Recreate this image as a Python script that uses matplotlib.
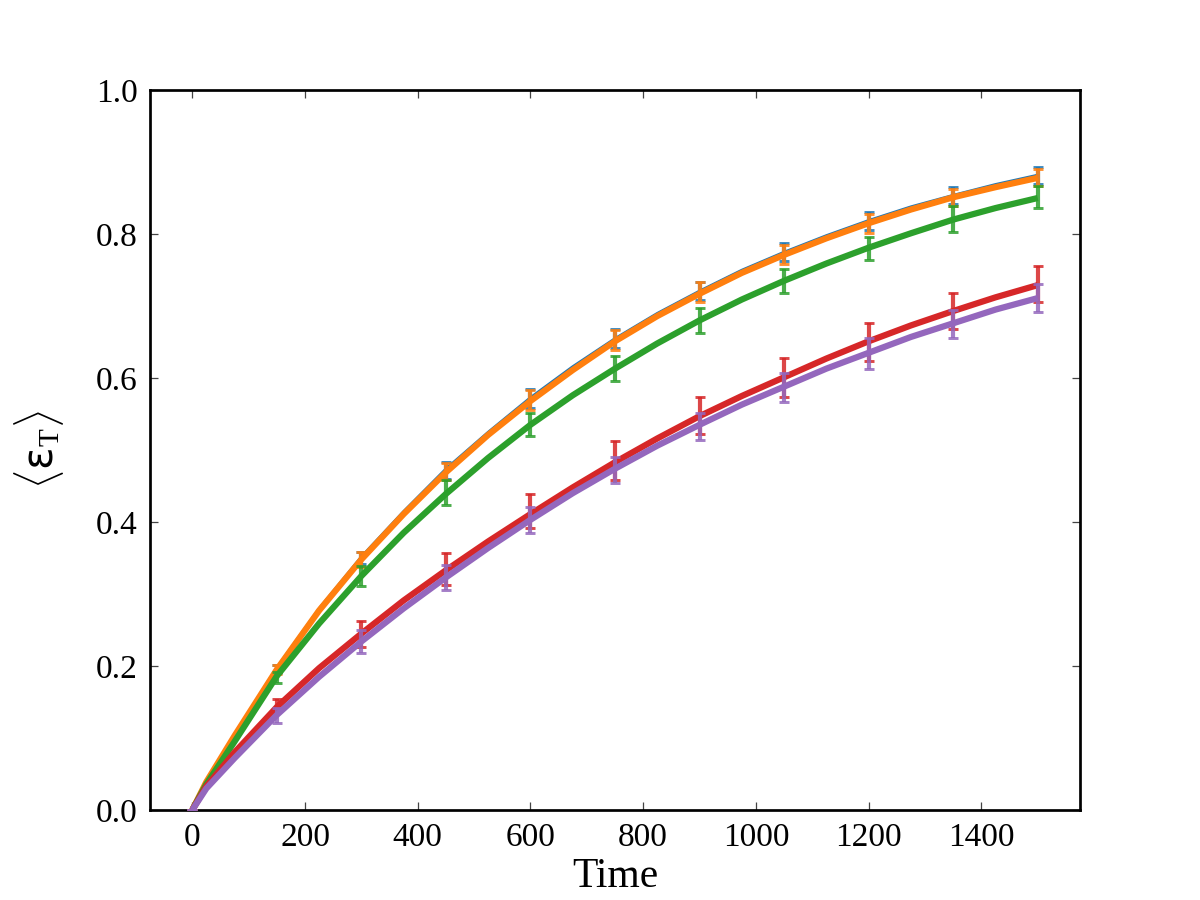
import matplotlib
matplotlib.use("Agg")
import matplotlib.pyplot as plt
import numpy as np

# ---- data ----
t_line = [0, 25, 75, 150, 225, 300, 375, 450, 525, 600, 675, 750, 825, 900,
          975, 1050, 1125, 1200, 1275, 1350, 1425, 1500]

blue_line = [0.0, 0.040, 0.105, 0.198, 0.280, 0.352, 0.415, 0.474, 0.525, 0.573,
             0.616, 0.655, 0.690, 0.721, 0.750, 0.775, 0.798, 0.819, 0.838,
             0.854, 0.869, 0.882]
orange_line = [0.0, 0.039, 0.103, 0.195, 0.277, 0.348, 0.411, 0.469, 0.521, 0.568,
               0.611, 0.651, 0.686, 0.717, 0.746, 0.771, 0.794, 0.815, 0.834,
               0.851, 0.865, 0.878]
green_line = [0.0, 0.036, 0.095, 0.186, 0.259, 0.325, 0.385, 0.439, 0.489, 0.535,
              0.576, 0.613, 0.648, 0.680, 0.709, 0.735, 0.759, 0.781, 0.801,
              0.820, 0.836, 0.850]
red_line = [0.0, 0.033, 0.080, 0.143, 0.197, 0.245, 0.291, 0.333, 0.373, 0.411,
            0.448, 0.483, 0.516, 0.547, 0.575, 0.601, 0.627, 0.651, 0.673,
            0.693, 0.712, 0.729]
purple_line = [0.0, 0.030, 0.072, 0.132, 0.185, 0.234, 0.280, 0.323, 0.364, 0.403,
               0.440, 0.474, 0.506, 0.535, 0.563, 0.588, 0.613, 0.635, 0.657,
               0.676, 0.695, 0.711]

t_err = [0, 150, 300, 450, 600, 750, 900, 1050, 1200, 1350, 1500]

blue_mean = [0.0, 0.196, 0.350, 0.472, 0.572, 0.655, 0.721, 0.775, 0.818, 0.853, 0.881]
blue_err = [0.0, 0.006, 0.009, 0.012, 0.013, 0.013, 0.013, 0.013, 0.012, 0.012, 0.012]
orange_mean = [0.0, 0.195, 0.348, 0.470, 0.570, 0.653, 0.719, 0.772, 0.815, 0.851, 0.878]
orange_err = [0.0, 0.006, 0.010, 0.012, 0.014, 0.014, 0.014, 0.013, 0.013, 0.012, 0.012]
green_mean = [0.0, 0.184, 0.325, 0.441, 0.535, 0.613, 0.680, 0.735, 0.780, 0.821, 0.851]
green_err = [0.0, 0.007, 0.014, 0.017, 0.016, 0.017, 0.017, 0.017, 0.016, 0.018, 0.015]
red_mean = [0.0, 0.146, 0.244, 0.335, 0.415, 0.485, 0.548, 0.601, 0.650, 0.693, 0.730]
red_err = [0.0, 0.008, 0.018, 0.022, 0.024, 0.027, 0.026, 0.027, 0.026, 0.025, 0.025]
purple_mean = [0.0, 0.131, 0.234, 0.323, 0.403, 0.472, 0.533, 0.587, 0.634, 0.675, 0.711]
purple_err = [0.0, 0.010, 0.016, 0.017, 0.018, 0.018, 0.019, 0.020, 0.021, 0.020, 0.020]

x_ticks = [0, 200, 400, 600, 800, 1000, 1200, 1400]
y_ticks = [0.0, 0.2, 0.4, 0.6, 0.8, 1.0]

colors = ['#1f77b4', '#ff7f0e', '#2ca02c', '#d62728', '#9467bd']

plt.rcParams['font.family'] = ['Liberation Serif', 'DejaVu Serif']
plt.rcParams['mathtext.fontset'] = 'custom'
plt.rcParams['mathtext.rm'] = 'Liberation Serif'
plt.rcParams['mathtext.it'] = 'Liberation Serif:italic'
plt.rcParams['mathtext.sf'] = 'DejaVu Sans'

fig = plt.figure(figsize=(8, 6), dpi=150)
ax = fig.add_axes([0.125, 0.1, 0.775, 0.8])

series = [
    (blue_line, blue_mean, blue_err, 1.2),
    (orange_line, orange_mean, orange_err, 3.0),
    (green_line, green_mean, green_err, 3.0),
    (red_line, red_mean, red_err, 3.0),
    (purple_line, purple_mean, purple_err, 3.0),
]
for i, (ln, mn, er, lw) in enumerate(series):
    c = colors[i]
    ax.plot(t_line, ln, color=c, lw=lw, zorder=2 + i * 2,
            solid_joinstyle='round', solid_capstyle='butt')
    ax.errorbar(t_err, mn, yerr=er, fmt='none', ecolor=c, elinewidth=2.0,
                capsize=2.6, capthick=1.4, alpha=0.85, zorder=2 + i * 2 + 1)

ax.set_xlim(-75, 1575)
ax.set_ylim(0, 1.0)
ax.set_xticks(x_ticks)
ax.set_yticks(y_ticks)
ax.set_yticklabels([f"{v:.1f}" for v in y_ticks])
ax.tick_params(direction='in', top=True, right=True, length=4, width=0.6,
               labelsize=16, pad=6, color='#444444')
for s in ax.spines.values():
    s.set_linewidth(1.3)

ax.set_xlabel('Time', fontsize=20, labelpad=2)
ax.set_ylabel(r'$\langle \mathsf{\varepsilon}_{\rm T} \rangle$', fontsize=20, labelpad=14)

fig.savefig('out.png', dpi=150)
